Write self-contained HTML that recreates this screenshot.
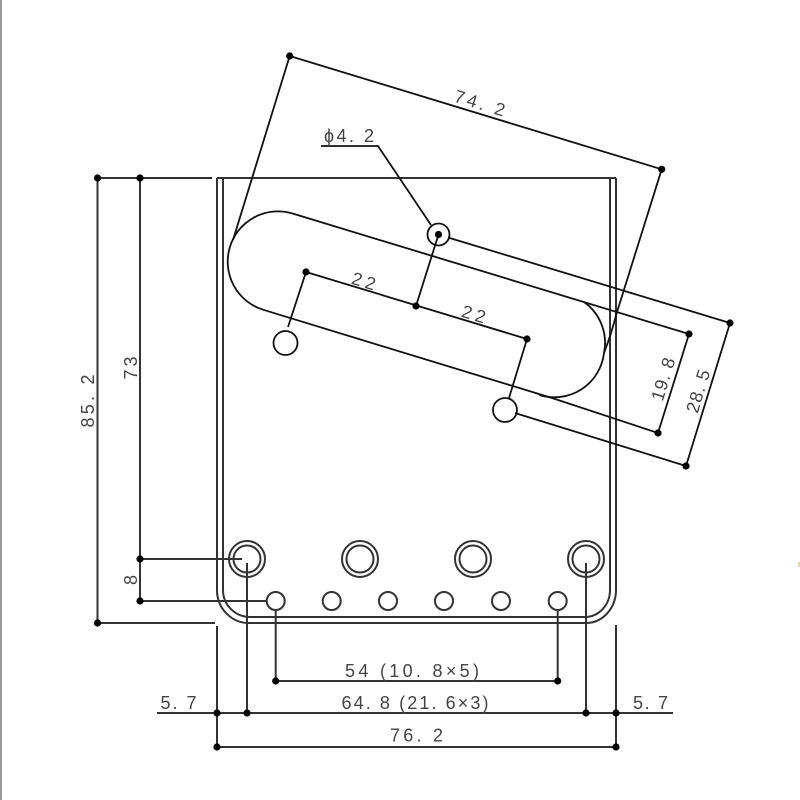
<!DOCTYPE html>
<html><head><meta charset="utf-8">
<style>
html,body{margin:0;padding:0;background:#fff;width:800px;height:800px;overflow:hidden}
svg{display:block;filter:blur(.35px)}
text{font-family:"Liberation Sans",sans-serif;font-size:18px;fill:#444}
.p{fill:none;stroke:#333;stroke-width:1.8}
.g{fill:none;stroke:#333;stroke-width:2}
.t{fill:none;stroke:#111;stroke-width:1.8}
circle.d{fill:#000;stroke:none}
</style></head><body>
<svg width="800" height="800" viewBox="0 0 800 800" xmlns="http://www.w3.org/2000/svg">
<rect x="0" y="0" width="2" height="800" fill="#999"/>
<!-- plate -->
<path class="g" d="M217 178H616M217 178V590A32 33 0 0 0 247 623H587A30 33 0 0 0 616 590V178"/>
<path class="g" d="M223 178V590A27 27 0 0 0 250 617H585A25 27 0 0 0 610 590V178"/>
<!-- slot -->
<path class="t" d="M292.600 213.500A50 50 0 0 0 263.400 309.800L552 398"/>
<path class="t" d="M292.600 213.500L689 334M584 302A50 50 0 0 1 604 353A50 50 0 0 1 539.400 395"/>
<!-- holes -->
<g class="g">
<circle cx="247" cy="559" r="18"/><circle cx="247" cy="559" r="13.500"/>
<circle cx="360" cy="559" r="18"/><circle cx="360" cy="559" r="13.500"/>
<circle cx="473" cy="559" r="18"/><circle cx="473" cy="559" r="13.500"/>
<circle cx="586" cy="559" r="18"/><circle cx="586" cy="559" r="13.500"/>
<circle cx="275.700" cy="601" r="9"/><circle cx="331.700" cy="601" r="9"/><circle cx="388" cy="601" r="9"/>
<circle cx="444" cy="601" r="9"/><circle cx="501" cy="601" r="9"/><circle cx="557.700" cy="601" r="9"/>
</g>
<circle class="t" cx="285.500" cy="343" r="12"/>
<circle class="t" cx="505" cy="410" r="12"/>
<circle class="t" cx="438.500" cy="234.500" r="11"/>
<!-- dimension lines -->
<path class="t" d="M233 240L289.700 56L661.700 169.300L616.700 313Q611 335 604 353"/>
<path class="t" d="M321 146H378L431 225"/>
<path class="t" d="M448 237.500L730 323L686 466L515 413"/>
<path class="t" d="M552 398L658 433L689 334"/>
<path class="t" d="M288 327L306 272L527 339L509 398"/>
<path class="t" d="M438.500 234.500L416 306"/>
<path class="g" d="M97.500 178H140M97.500 178V623H215M140 178V601M140 559H242M140 601H267"/>
<path class="t" d="M140 178H212"/>
<path class="g" d="M247 563V713M586 563V713M217 626V747M616 625V747M275.700 611V681H557.700V611M157 713H673M217 747H616"/>
<!-- dots -->
<g>
<circle class="d" cx="289.700" cy="56" r="3.600"/><circle class="d" cx="661.700" cy="169.300" r="3.600"/>
<circle class="d" cx="438.500" cy="234.500" r="3.600"/><circle class="d" cx="730" cy="323" r="3.600"/>
<circle class="d" cx="689" cy="334" r="3.600"/><circle class="d" cx="658" cy="433" r="3.600"/>
<circle class="d" cx="686" cy="466" r="3.600"/><circle class="d" cx="306" cy="272" r="3.600"/>
<circle class="d" cx="416" cy="306" r="3.600"/><circle class="d" cx="527" cy="339" r="3.600"/>
<circle class="d" cx="97.500" cy="178" r="3.600"/><circle class="d" cx="140" cy="178" r="3.600"/>
<circle class="d" cx="140" cy="559" r="3.600"/><circle class="d" cx="140" cy="601" r="3.600"/>
<circle class="d" cx="97.500" cy="623" r="3.600"/><circle class="d" cx="275.700" cy="681" r="3.600"/>
<circle class="d" cx="557.700" cy="681" r="3.600"/><circle class="d" cx="217" cy="713" r="3.600"/>
<circle class="d" cx="247" cy="713" r="3.600"/><circle class="d" cx="586" cy="713" r="3.600"/>
<circle class="d" cx="616" cy="713" r="3.600"/><circle class="d" cx="217" cy="747" r="3.600"/>
<circle class="d" cx="616" cy="747" r="3.600"/>
</g>
<!-- labels -->
<text x="0" y="0" text-anchor="middle" textLength="52" transform="translate(478 109) rotate(17)">74. 2</text>
<text x="324" y="142" textLength="50">ϕ4. 2</text>
<text x="0" y="0" text-anchor="middle" textLength="24" transform="translate(362 287) rotate(17)">22</text>
<text x="0" y="0" text-anchor="middle" textLength="24" transform="translate(472 320) rotate(17)">22</text>
<text x="0" y="0" text-anchor="middle" textLength="44" transform="translate(669 381) rotate(-73)">19. 8</text>
<text x="0" y="0" text-anchor="middle" textLength="44" transform="translate(704 393) rotate(-73)">28. 5</text>
<text x="0" y="0" text-anchor="middle" textLength="53" transform="translate(94 401) rotate(-90)">85. 2</text>
<text x="0" y="0" text-anchor="middle" textLength="23" transform="translate(137 368) rotate(-90)">73</text>
<text x="0" y="0" text-anchor="middle" transform="translate(137 580) rotate(-90)">8</text>
<text x="160.500" y="709" textLength="36">5. 7</text>
<text x="633" y="709" textLength="35">5. 7</text>
<text x="345" y="677" textLength="134">54 (10. 8×5)</text>
<text x="341.500" y="709" textLength="147">64. 8 (21. 6×3)</text>
<text x="390" y="741.500" textLength="53">76. 2</text>
<rect x="798" y="562" width="2" height="5" fill="#e3d3bb"/>
</svg>
</body></html>
